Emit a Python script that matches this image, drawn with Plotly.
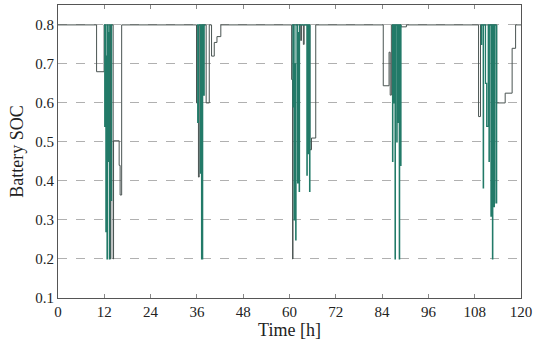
import plotly.graph_objects as go

# Gray SOC trace (step contour), hours / SOC
gray_time = [0, 10.0, 11.95, 13.6, 13.7, 14.3, 14.4, 15.85, 16.1, 16.5,
             35.9, 36.4, 36.6, 38.4, 39.2, 39.8, 40.5, 41.2, 42.2,
             60.55, 60.8, 60.9, 62.9, 63.1, 63.6, 63.8, 65.3, 65.7, 66.8,
             84.3, 85.8, 86.1, 86.4, 88.9, 90.3,
             109.0, 109.5, 113.7, 115.9, 117.7, 118.6, 120]
gray_soc = [0.8, 0.68, 0.8, 0.2, 0.8, 0.2, 0.503, 0.44, 0.364, 0.8,
            0.6, 0.41, 0.8, 0.6, 0.8, 0.72, 0.755, 0.77, 0.8,
            0.66, 0.2, 0.8, 0.76, 0.8, 0.75, 0.8, 0.48, 0.51, 0.8,
            0.644, 0.73, 0.62, 0.8, 0.795, 0.8,
            0.565, 0.8, 0.6, 0.625, 0.74, 0.8, 0.8]

# Teal SOC trace (fast discharge spikes), None separates days
teal_time = [11.9, 12.1, 12.2, 12.4, 12.5, 12.7, 12.8, 13.0, 13.1, 13.3, 13.4, 13.8, 13.9, 14.1, None,
             36.0, 36.2, 36.4, 36.9, 37.0, 37.2, 37.3, 37.4, 37.5, 37.8, 37.9, 38.2, None,
             60.6, 60.9, 61.0, 61.2, 61.3, 61.6, 61.7, 62.1, 62.2, 62.5, 62.6, 64.5, 64.6, 64.9, 65.0, 65.2, 65.3, None,
             86.5, 86.7, 86.8, 87.0, 87.1, 87.35, 87.45, 87.8, 87.9, 88.1, 88.2, 88.45, 88.55, 88.8, 88.9, None,
             109.5, 109.7, 109.8, 110.2, 110.3, 110.8, 111.1, 111.5, 111.7, 111.8, 112.2, 112.3, 112.6, 112.7, 113.0, 113.1, 113.5, 113.7]
teal_soc = [0.8, 0.54, 0.8, 0.27, 0.72, 0.2, 0.8, 0.45, 0.78, 0.2, 0.8, 0.35, 0.8, 0.8, None,
            0.8, 0.55, 0.8, 0.42, 0.8, 0.2, 0.7, 0.2, 0.8, 0.62, 0.8, 0.8, None,
            0.8, 0.59, 0.8, 0.3, 0.7, 0.249, 0.8, 0.395, 0.78, 0.373, 0.8, 0.415, 0.8, 0.47, 0.8, 0.373, 0.8, None,
            0.8, 0.45, 0.8, 0.6, 0.8, 0.2, 0.8, 0.5, 0.8, 0.55, 0.8, 0.2, 0.8, 0.44, 0.8, None,
            0.8, 0.75, 0.8, 0.382, 0.8, 0.65, 0.54, 0.8, 0.45, 0.8, 0.31, 0.8, 0.2, 0.8, 0.334, 0.8, 0.344, 0.8]

x_ticks = [0, 12, 24, 36, 48, 60, 72, 84, 96, 108, 120]
y_ticks = [0.1, 0.2, 0.3, 0.4, 0.5, 0.6, 0.7, 0.8]

fig = go.Figure()
fig.add_trace(go.Scatter(x=gray_time, y=gray_soc, mode="lines",
                         line=dict(color="#4a5452", width=1, shape="hv"),
                         showlegend=False, hoverinfo="skip"))
fig.add_trace(go.Scatter(x=teal_time, y=teal_soc, mode="lines", connectgaps=False,
                         line=dict(color="#227a68", width=1.2, shape="hv"),
                         showlegend=False, hoverinfo="skip"))

font = dict(family="Liberation Serif, DejaVu Serif, serif", size=15, color="#222")
fig.update_layout(
    width=550, height=345,
    margin=dict(l=58, r=29, t=5, b=47),
    paper_bgcolor="white", plot_bgcolor="white",
    font=font,
    xaxis=dict(range=[0, 120], tickvals=x_ticks, ticktext=[str(v) for v in x_ticks],
               showgrid=False, zeroline=False, automargin=False,
               showline=True, linecolor="#555", linewidth=1, mirror="ticks",
               ticks="inside", ticklen=4, tickcolor="#888",
               title=dict(text="Time [h]", standoff=2)),
    yaxis=dict(range=[0.1, 0.851], tickvals=y_ticks, ticktext=[f"{v:.1f}" for v in y_ticks],
               showgrid=True, gridcolor="#b0b0b0", griddash="dash", gridwidth=1,
               zeroline=False, automargin=False,
               showline=True, linecolor="#555", linewidth=1, mirror=True,
               ticks="", title=dict(text="Battery SOC", standoff=6)),
)
fig.write_html("out.html", config={"displayModeBar": False},
               post_script="document.body.style.margin='0';")
